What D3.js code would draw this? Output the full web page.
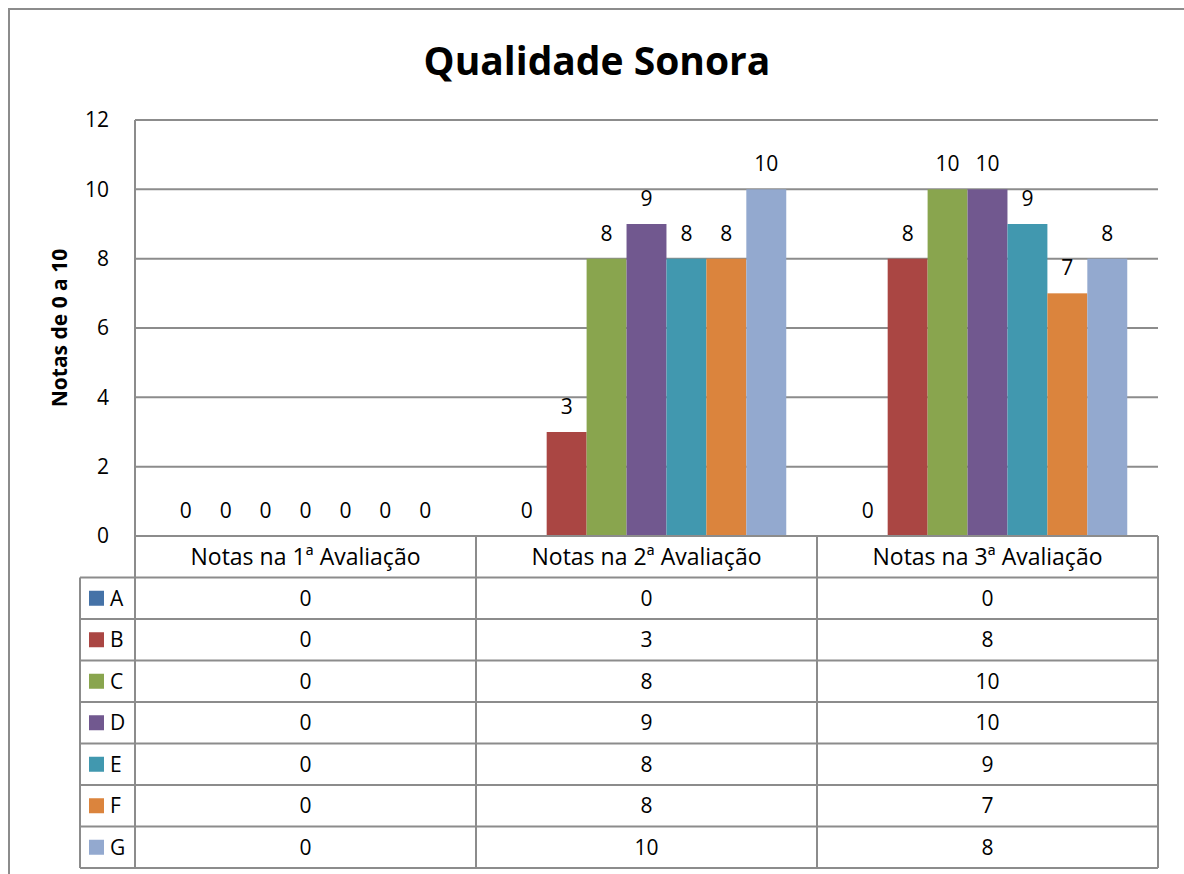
<!DOCTYPE html>
<html>
<head>
<meta charset="utf-8">
<script src="https://cdn.jsdelivr.net/npm/d3@7"></script>
<style>
  body { margin: 0; background: #fff; }
  text { font-family: "Open Sans", "Noto Sans", sans-serif; fill: #000; }
</style>
</head>
<body>
<svg width="1184" height="874"></svg>
<script>
const svg = d3.select("svg");

// dados do gráfico
const categorias = ["Notas na 1ª Avaliação", "Notas na 2ª Avaliação", "Notas na 3ª Avaliação"];
const series = ["A", "B", "C", "D", "E", "F", "G"];
const cores = ["#4572A7", "#AA4643", "#89A54E", "#71588F", "#4198AF", "#DB843D", "#93A9CF"];
const valores = {
    A: [0, 0, 0],
    B: [0, 3, 8],
    C: [0, 8, 10],
    D: [0, 9, 10],
    E: [0, 8, 9],
    F: [0, 8, 7],
    G: [0, 10, 8]
};
const ticksY = [0, 2, 4, 6, 8, 10, 12];

const plot = { left: 135, right: 1158, top: 120, bottom: 536 };
const linhaAltura = 41.5;
const gridCor = "#8c8c8c";
const fonte = "21px";

// moldura externa
svg.append("path")
    .attr("d", "M9,874 L9,9 L1184,9")
    .attr("fill", "none")
    .attr("stroke", gridCor)
    .attr("stroke-width", 2);

// título
svg.append("text")
    .attr("x", 597).attr("y", 75)
    .attr("text-anchor", "middle")
    .style("font-size", "39px").style("font-weight", "bold")
    .text("Qualidade Sonora");

const y = d3.scaleLinear().domain([0, 12]).range([plot.bottom, plot.top]);
const x0 = d3.scaleBand().domain(categorias).range([plot.left, plot.right]);
const x1 = d3.scaleBand().domain(series).range([0, x0.bandwidth()]).paddingOuter(0.77);

// linhas de grade
svg.append("g").selectAll("line")
    .data(ticksY)
    .enter().append("line")
    .attr("x1", plot.left).attr("x2", plot.right)
    .attr("y1", d => y(d)).attr("y2", d => y(d))
    .attr("stroke", gridCor).attr("stroke-width", 2);

// eixo vertical
svg.append("line")
    .attr("x1", plot.left).attr("x2", plot.left)
    .attr("y1", plot.top).attr("y2", plot.bottom)
    .attr("stroke", gridCor).attr("stroke-width", 2);

svg.append("g").selectAll("text")
    .data(ticksY)
    .enter().append("text")
    .attr("x", 109).attr("y", d => y(d))
    .attr("dy", "0.35em")
    .attr("text-anchor", "end")
    .style("font-size", fonte)
    .text(d => d);

svg.append("text")
    .attr("transform", "translate(67,328) rotate(-90)")
    .attr("text-anchor", "middle")
    .style("font-size", "21px").style("font-weight", "bold")
    .text("Notas de 0 a 10");

// barras
const grupos = svg.append("g").selectAll("g")
    .data(categorias)
    .enter().append("g")
    .attr("transform", d => `translate(${x0(d)},0)`);

grupos.selectAll("rect")
    .data((c, ci) => series.map((s, si) => ({ s, si, v: valores[s][ci] })))
    .enter().append("rect")
    .attr("x", d => x1(d.s))
    .attr("width", x1.bandwidth())
    .attr("y", d => y(d.v))
    .attr("height", d => y(0) - y(d.v))
    .attr("fill", d => cores[d.si]);

grupos.selectAll("text")
    .data((c, ci) => series.map((s, si) => ({ s, si, v: valores[s][ci] })))
    .enter().append("text")
    .attr("x", d => x1(d.s) + x1.bandwidth() / 2)
    .attr("y", d => y(d.v) - 18)
    .attr("text-anchor", "middle")
    .style("font-size", fonte)
    .text(d => d.v);

// tabela de dados
const tabTop = plot.bottom;
const tabLeft = 80;
const nLinhas = series.length + 1;
const tabBottom = tabTop + nLinhas * linhaAltura;

const tabela = svg.append("g");
// linhas horizontais
tabela.selectAll("line.h")
    .data(d3.range(nLinhas + 1))
    .enter().append("line")
    .attr("class", "h")
    .attr("x1", d => d === 0 ? plot.left : tabLeft)
    .attr("x2", plot.right)
    .attr("y1", d => tabTop + d * linhaAltura)
    .attr("y2", d => tabTop + d * linhaAltura)
    .attr("stroke", gridCor).attr("stroke-width", 2);
// borda esquerda da coluna da legenda
tabela.append("line")
    .attr("x1", tabLeft).attr("x2", tabLeft)
    .attr("y1", tabTop + linhaAltura).attr("y2", tabBottom)
    .attr("stroke", gridCor).attr("stroke-width", 2);
// linhas verticais
const xs = [plot.left].concat(categorias.map(c => x0(c) + x0.bandwidth()));
tabela.selectAll("line.v")
    .data(xs)
    .enter().append("line")
    .attr("class", "v")
    .attr("x1", d => d).attr("x2", d => d)
    .attr("y1", tabTop).attr("y2", tabBottom)
    .attr("stroke", gridCor).attr("stroke-width", 2);

// cabeçalho
tabela.selectAll("text.cat")
    .data(categorias)
    .enter().append("text")
    .attr("class", "cat")
    .attr("x", d => x0(d) + x0.bandwidth() / 2)
    .attr("y", tabTop + linhaAltura / 2)
    .attr("dy", "0.35em")
    .attr("text-anchor", "middle")
    .style("font-size", "23px")
    .text(d => d);

// linhas das séries
series.forEach((s, si) => {
    const yc = tabTop + (si + 1.5) * linhaAltura;
    tabela.append("rect")
        .attr("x", 89).attr("y", yc - 7.5)
        .attr("width", 15).attr("height", 15)
        .attr("fill", cores[si]);
    tabela.append("text")
        .attr("x", 110).attr("y", yc)
        .attr("dy", "0.35em")
        .style("font-size", fonte)
        .text(s);
    tabela.selectAll(null)
        .data(categorias)
        .enter().append("text")
        .attr("x", d => x0(d) + x0.bandwidth() / 2)
        .attr("y", yc)
        .attr("dy", "0.35em")
        .attr("text-anchor", "middle")
        .style("font-size", fonte)
        .text((d, ci) => valores[s][ci]);
});
</script>
</body>
</html>
